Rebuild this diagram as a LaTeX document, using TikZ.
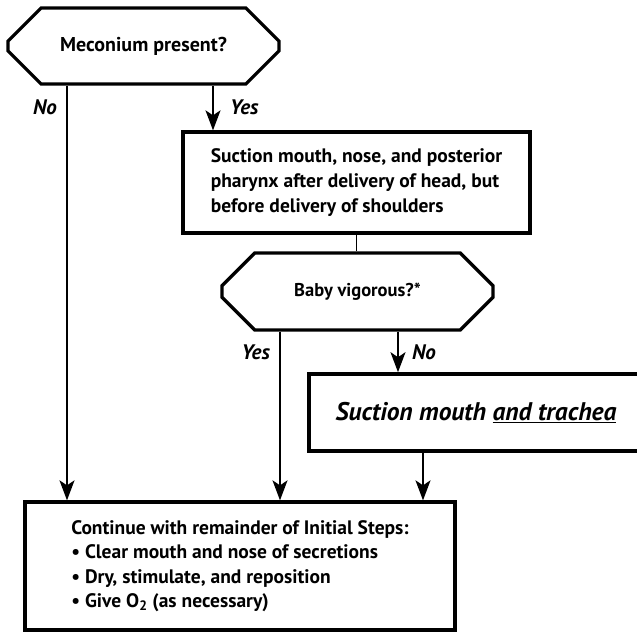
\documentclass[tikz,border=0pt]{standalone}
\usepackage{fontspec}
\setmainfont{PT Sans}
\usetikzlibrary{shapes.misc,arrows.meta}

\begin{document}
\begin{tikzpicture}[
  x=1pt, y=-1pt,
  font=\fontsize{19.5}{25}\selectfont\bfseries,
  decision/.style={chamfered rectangle, chamfered rectangle xsep=27pt, chamfered rectangle ysep=24pt,
                   draw, line width=3.3pt, inner sep=0pt, minimum width=271pt},
  stepbox/.style={rectangle, draw, line width=3.3pt, inner sep=0pt, align=left},
  choice/.style={font=\fontsize{21}{24}\selectfont\bfseries\itshape, inner sep=0pt},
  arr/.style={-{Stealth[length=20pt,width=15pt,inset=5pt]}, line width=1.6pt},
  link/.style={line width=1.6pt},
]
\clip (0,0) rectangle (637,632);

% ── Decisions and steps ──────────────────────────────────────────────────────
\node[decision, minimum height=76pt, font=\fontsize{20}{24}\selectfont\bfseries]
  (meco) at (143.5,46) {Meconium present?};
\node[stepbox, minimum width=347pt, minimum height=101pt]
  (suct) at (356.5,182.5) {Suction mouth, nose, and posterior\\pharynx after delivery of head, but\\before delivery of shoulders};
\node[decision, minimum height=77pt, font=\fontsize{18.5}{22}\selectfont\bfseries]
  (vigo) at (357.5,291.5) {Baby vigorous?*};
\node[stepbox, line width=3.6pt, minimum width=334pt, minimum height=77pt,
      font=\fontsize{25.5}{28}\selectfont\bfseries\itshape]
  (trach) at (476,412.5) {Suction mouth \underline{and trachea}};
\node[stepbox, minimum width=430pt, minimum height=128pt,
      font=\fontsize{19.5}{24.5}\selectfont\bfseries]
  (cont) at (240,566) {Continue with remainder of Initial Steps:\\\textbullet\ Clear mouth and nose of secretions\\\textbullet\ Dry, stimulate, and reposition\\\textbullet\ Give O\textsubscript{2} (as necessary)};

% ── Where the connectors run ─────────────────────────────────────────────────
\coordinate (noL)  at (67,0);
\coordinate (yesT) at (213,0);
\coordinate (yesV) at (280,0);
\coordinate (noV)  at (398,0);
\coordinate (trX)  at (423,0);

% ── Answers ──────────────────────────────────────────────────────────────────
\node[choice, anchor=east] (noA)  at (57,107)  {No};
\node[choice, anchor=west] (yesA) at (230,107) {Yes};
\node[choice, anchor=east] (yesB) at (270,352) {Yes};
\node[choice, anchor=west] (noB)  at (412,352) {No};

% ── Connectors ───────────────────────────────────────────────────────────────
\draw[arr]  (meco.south -| noL)  -- (cont.north -| noL);
\draw[arr]  (meco.south -| yesT) -- (suct.north -| yesT);
\draw[link] (suct.south) -- (suct.south |- vigo.north);
\draw[arr]  (vigo.south -| yesV) -- (cont.north -| yesV);
\draw[arr]  (vigo.south -| noV)  -- (trach.north -| noV);
\draw[arr]  (trach.south -| trX) -- (cont.north -| trX);

\end{tikzpicture}
\end{document}
